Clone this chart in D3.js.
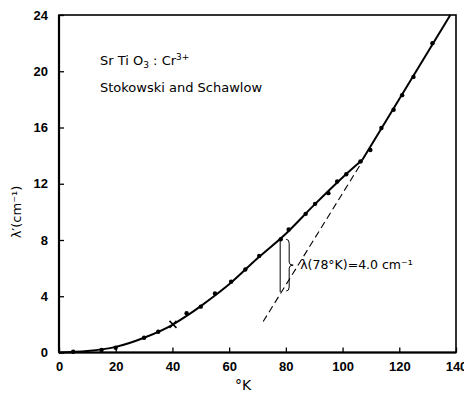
<!DOCTYPE html>
<meta charset="utf-8" />
<script src="https://d3js.org/d3.v7.js"></script>
<style>
  body { margin: 0; background: white; }
  .tick-label { font-family: "Liberation Sans", Arial, sans-serif; font-weight: bold; font-size: 13px; }
  .note { font-family: "DejaVu Sans", sans-serif; font-size: 13px; }
</style>
<div id="my_dataviz"></div>

<script>
  // measured points (temperature in K, lambda' in cm-1)
  const tempPoints = [5, 15, 20, 30, 35, 45, 50, 55, 60.7, 65.7, 70.6, 78.2, 81, 87, 90.3, 95, 98.1, 101.3, 106.3, 109.8, 113.7, 118, 121, 125, 131.7];
  const lambdaPoints = [0.05, 0.18, 0.34, 1.05, 1.48, 2.8, 3.26, 4.2, 5.04, 5.9, 6.87, 8.05, 8.75, 9.86, 10.57, 11.33, 12.16, 12.68, 13.58, 14.4, 15.96, 17.26, 18.3, 19.6, 22.0];
  // cross marker
  const crossT = [40.2];
  const crossL = [2.0];
  // drawn smooth curve below the kink, then straight line above it
  const curveT = [0, 10, 20, 30, 40, 45, 50, 55, 60, 70, 80, 90, 100, 107];
  const curveL = [0, 0.1, 0.4, 1.05, 1.97, 2.6, 3.3, 4.05, 4.85, 6.7, 8.45, 10.5, 12.45, 13.7];
  const lineT = [107, 138];
  const lineL = [13.7, 24];
  // dashed extrapolation
  const dashT = [72, 107];
  const dashL = [2.2, 13.6];
  const xTicks = [0, 20, 40, 60, 80, 100, 120, 140];
  const yTicks = [0, 4, 8, 12, 16, 20, 24];

  const width = 464, height = 400;
  const plot = { left: 59, right: 456, top: 15, bottom: 352.5 };

  const svg = d3
    .select("#my_dataviz")
    .append("svg")
    .attr("width", width)
    .attr("height", height);

  const x = d3.scaleLinear().domain([0, 140]).range([plot.left, plot.right]);
  const y = d3.scaleLinear().domain([0, 24]).range([plot.bottom, plot.top]);

  // frame
  svg.append("rect")
    .attr("x", x(0)).attr("y", y(24))
    .attr("width", x(140) - x(0)).attr("height", y(0) - y(24))
    .attr("fill", "none").attr("stroke", "black").attr("stroke-width", 1.6);
  svg.append("line")
    .attr("x1", x(0)).attr("x2", x(0)).attr("y1", y(24)).attr("y2", y(0))
    .attr("stroke", "black").attr("stroke-width", 2.2);
  svg.append("line")
    .attr("x1", x(0)).attr("x2", x(140)).attr("y1", y(0)).attr("y2", y(0))
    .attr("stroke", "black").attr("stroke-width", 2.2);

  // axes with inward ticks
  const xAxis = svg.append("g")
    .attr("transform", `translate(0,${y(0)})`)
    .call(d3.axisBottom(x).tickValues(xTicks).tickSize(-5).tickPadding(14).tickFormat(d3.format("d")));
  xAxis.select(".domain").remove();
  xAxis.selectAll("text").attr("class", "tick-label").attr("dy", "0.35em").attr("fill", "black");
  xAxis.selectAll("line").attr("stroke-width", 1.3);

  const yAxis = svg.append("g")
    .attr("transform", `translate(${x(0)},0)`)
    .call(d3.axisLeft(y).tickValues(yTicks).tickSize(-5).tickPadding(11).tickFormat(d3.format("d")));
  yAxis.select(".domain").remove();
  yAxis.selectAll("text").attr("class", "tick-label").attr("fill", "black");
  yAxis.selectAll("line").attr("stroke-width", 1.3);

  // axis titles
  svg.append("text")
    .attr("class", "note")
    .attr("x", 243).attr("y", 390)
    .attr("text-anchor", "middle")
    .style("font-size", "14px")
    .text("°K");

  svg.append("text")
    .attr("class", "note")
    .attr("transform", "translate(21,212) rotate(-90)")
    .attr("text-anchor", "middle")
    .style("font-size", "13px")
    .text("λ′(cm⁻¹)");

  // annotation text
  const t1 = svg.append("text").attr("class", "note").attr("x", 100).attr("y", 65);
  t1.append("tspan").text("Sr Ti O");
  t1.append("tspan").attr("dy", 3).style("font-size", "9px").text("3");
  t1.append("tspan").attr("dy", -3).text(" : Cr");
  t1.append("tspan").attr("dy", -5).style("font-size", "9px").text("3+");

  svg.append("text").attr("class", "note").attr("x", 100).attr("y", 92)
    .text("Stokowski and Schawlow");

  // fitted curve
  const curveData = curveT.map((t, i) => [t, curveL[i]]);
  svg.append("path")
    .datum(curveData)
    .attr("fill", "none").attr("stroke", "black").attr("stroke-width", 2)
    .attr("d", d3.line().x(d => x(d[0])).y(d => y(d[1])).curve(d3.curveMonotoneX));

  const lineData = lineT.map((t, i) => [t, lineL[i]]);
  svg.append("path")
    .datum(lineData)
    .attr("fill", "none").attr("stroke", "black").attr("stroke-width", 2)
    .attr("d", d3.line().x(d => x(d[0])).y(d => y(d[1])));

  const dashData = dashT.map((t, i) => [t, dashL[i]]);
  svg.append("path")
    .datum(dashData)
    .attr("fill", "none").attr("stroke", "black").attr("stroke-width", 1.1)
    .attr("stroke-dasharray", "7,4")
    .attr("d", d3.line().x(d => x(d[0])).y(d => y(d[1])));

  // measured points
  svg.append("g")
    .selectAll("circle")
    .data(tempPoints.map((t, i) => [t, lambdaPoints[i]]))
    .join("circle")
    .attr("cx", d => x(d[0]))
    .attr("cy", d => y(d[1]))
    .attr("r", 2.2)
    .attr("fill", "black");

  svg.append("g")
    .selectAll("path")
    .data(crossT.map((t, i) => [t, crossL[i]]))
    .join("path")
    .attr("d", d => {
      const cx = x(d[0]), cy = y(d[1]);
      return `M${cx - 3.5},${cy - 3.5}L${cx + 3.5},${cy + 3.5}M${cx - 3.5},${cy + 3.5}L${cx + 3.5},${cy - 3.5}`;
    })
    .attr("stroke", "black").attr("stroke-width", 1.5);

  // bracket marking lambda(78K)
  const bT = 78, bTop = 8.05, bBot = 4.3;
  svg.append("line")
    .attr("x1", x(bT)).attr("x2", x(bT))
    .attr("y1", y(bTop)).attr("y2", y(bBot))
    .attr("stroke", "black").attr("stroke-width", 1);
  const bx = x(bT) + 9, yt = y(bTop), yb = y(bBot) - 1, ym = (yt + yb) / 2;
  svg.append("path")
    .attr("d", `M${bx - 3},${yt} Q${bx},${yt} ${bx},${yt + 4} L${bx},${ym - 3} Q${bx},${ym} ${bx + 4},${ym} Q${bx},${ym} ${bx},${ym + 3} L${bx},${yb - 4} Q${bx},${yb} ${bx - 3},${yb}`)
    .attr("fill", "none").attr("stroke", "black").attr("stroke-width", 1);

  svg.append("text")
    .attr("class", "note")
    .attr("x", bx + 11).attr("y", ym + 4)
    .style("font-size", "12.5px")
    .text("λ(78°K)=4.0 cm⁻¹");
</script>
